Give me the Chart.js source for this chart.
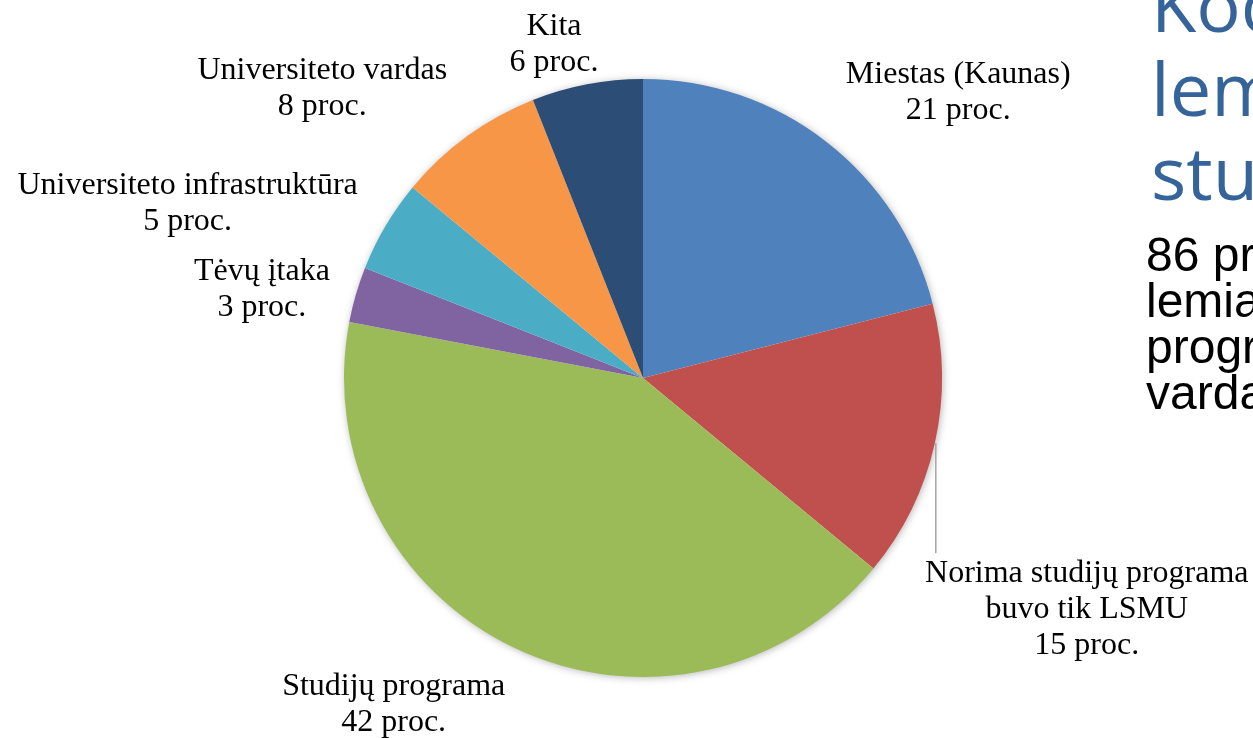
<!DOCTYPE html>
<html>
<head>
<meta charset="utf-8">
<script src="https://cdn.jsdelivr.net/npm/chart.js@4.4.0/dist/chart.umd.min.js"></script>
<style>
  html, body { margin: 0; padding: 0; background: #fff; overflow: hidden; width: 1253px; height: 738px; }
  #wrap { position: relative; width: 1253px; height: 738px; }
  canvas { position: absolute; left: 0; top: 0; }
  .title { position: absolute; left: 1151px; font-family: "Open Sans", "Noto Sans", sans-serif; font-size: 74px; color: #35649a; white-space: nowrap; line-height: 84px; }
  .body { position: absolute; left: 1146px; font-family: "Liberation Sans", Arial, sans-serif; font-size: 48px; color: #000; white-space: nowrap; line-height: 46px; }
</style>
</head>
<body>
<div id="wrap">
  <canvas id="pie" width="1253" height="738"></canvas>
  <div class="title" style="top:-38px">Kodėl renkasi</div>
  <div class="title" style="top:46px">lemia</div>
  <div class="title" style="top:130px">studijas</div>
  <div class="body" style="top:232px">86 proc.</div>
  <div class="body" style="top:278px">lemia</div>
  <div class="body" style="top:324px">programa</div>
  <div class="body" style="top:370px">vardas</div>
</div>
<script>
const categories = [
    ['Miestas (Kaunas)'],
    ['Norima studijų programa', 'buvo tik LSMU'],
    ['Studijų programa'],
    ['Tėvų įtaka'],
    ['Universiteto infrastruktūra'],
    ['Universiteto vardas'],
    ['Kita'],
];
const values = [21, 15, 42, 3, 5, 8, 6];
const colors = ['#4F81BD', '#C0504D', '#9BBB59', '#8064A2', '#4BACC6', '#F79646', '#2C4D75'];

// label block offsets from the slice's outer mid point (dx, dy, leader line)
const labelShift = [
    [132, -49, false],
    [152, 166, true],
    [-122, 56, false],
    [-94, -5, false],
    [-198, -22, false],
    [-145, -48, false],
    [-33, -40, false],
];

const pieShadow = {
    id: 'pieShadow',
    beforeDatasetsDraw(chart) {
        const arc = chart.getDatasetMeta(0).data[0];
        if (!arc) return;
        const { x, y, outerRadius } = arc.getProps(['x', 'y', 'outerRadius'], true);
        const ctx = chart.ctx;
        ctx.save();
        ctx.shadowColor = 'rgba(0,0,0,0.35)';
        ctx.shadowBlur = 9;
        ctx.shadowOffsetX = 1;
        ctx.shadowOffsetY = 1;
        ctx.fillStyle = '#fff';
        ctx.beginPath();
        ctx.arc(x, y, outerRadius - 1, 0, Math.PI * 2);
        ctx.fill();
        ctx.restore();
    }
};

const sliceLabels = {
    id: 'sliceLabels',
    afterDatasetsDraw(chart) {
        const ctx = chart.ctx;
        const lineH = 36;
        ctx.save();
        ctx.font = '32px "Liberation Serif", "Times New Roman", serif';
        ctx.textAlign = 'center';
        ctx.textBaseline = 'middle';
        chart.getDatasetMeta(0).data.forEach((arc, i) => {
            const p = arc.getProps(['x', 'y', 'startAngle', 'endAngle', 'outerRadius'], true);
            const mid = (p.startAngle + p.endAngle) / 2;
            const ex = p.x + Math.cos(mid) * p.outerRadius;
            const ey = p.y + Math.sin(mid) * p.outerRadius;
            const [dx, dy, leader] = labelShift[i];
            const lines = categories[i].concat([values[i] + ' proc.']);
            const cx = ex + dx;
            const top = ey + dy - lines.length * lineH / 2;
            if (leader) {
                ctx.strokeStyle = '#a6a6a6';
                ctx.lineWidth = 1.5;
                ctx.beginPath();
                ctx.moveTo(ex + 1, ey);
                ctx.lineTo(ex + 1, top - 2);
                ctx.stroke();
            }
            ctx.fillStyle = '#000';
            lines.forEach((t, k) => ctx.fillText(t, cx, top + lineH * (k + 0.5)));
        });
        ctx.restore();
    }
};

new Chart(document.getElementById('pie'), {
    type: 'pie',
    data: {
        labels: categories.map(c => c.join(' ')),
        datasets: [{
            data: values,
            backgroundColor: colors,
            borderWidth: 0,
        }]
    },
    options: {
        responsive: false,
        animation: false,
        layout: { padding: { left: 344, right: 311, top: 79, bottom: 61 } },
        plugins: { legend: { display: false }, tooltip: { enabled: false } },
    },
    plugins: [pieShadow, sliceLabels],
});
</script>
</body>
</html>
